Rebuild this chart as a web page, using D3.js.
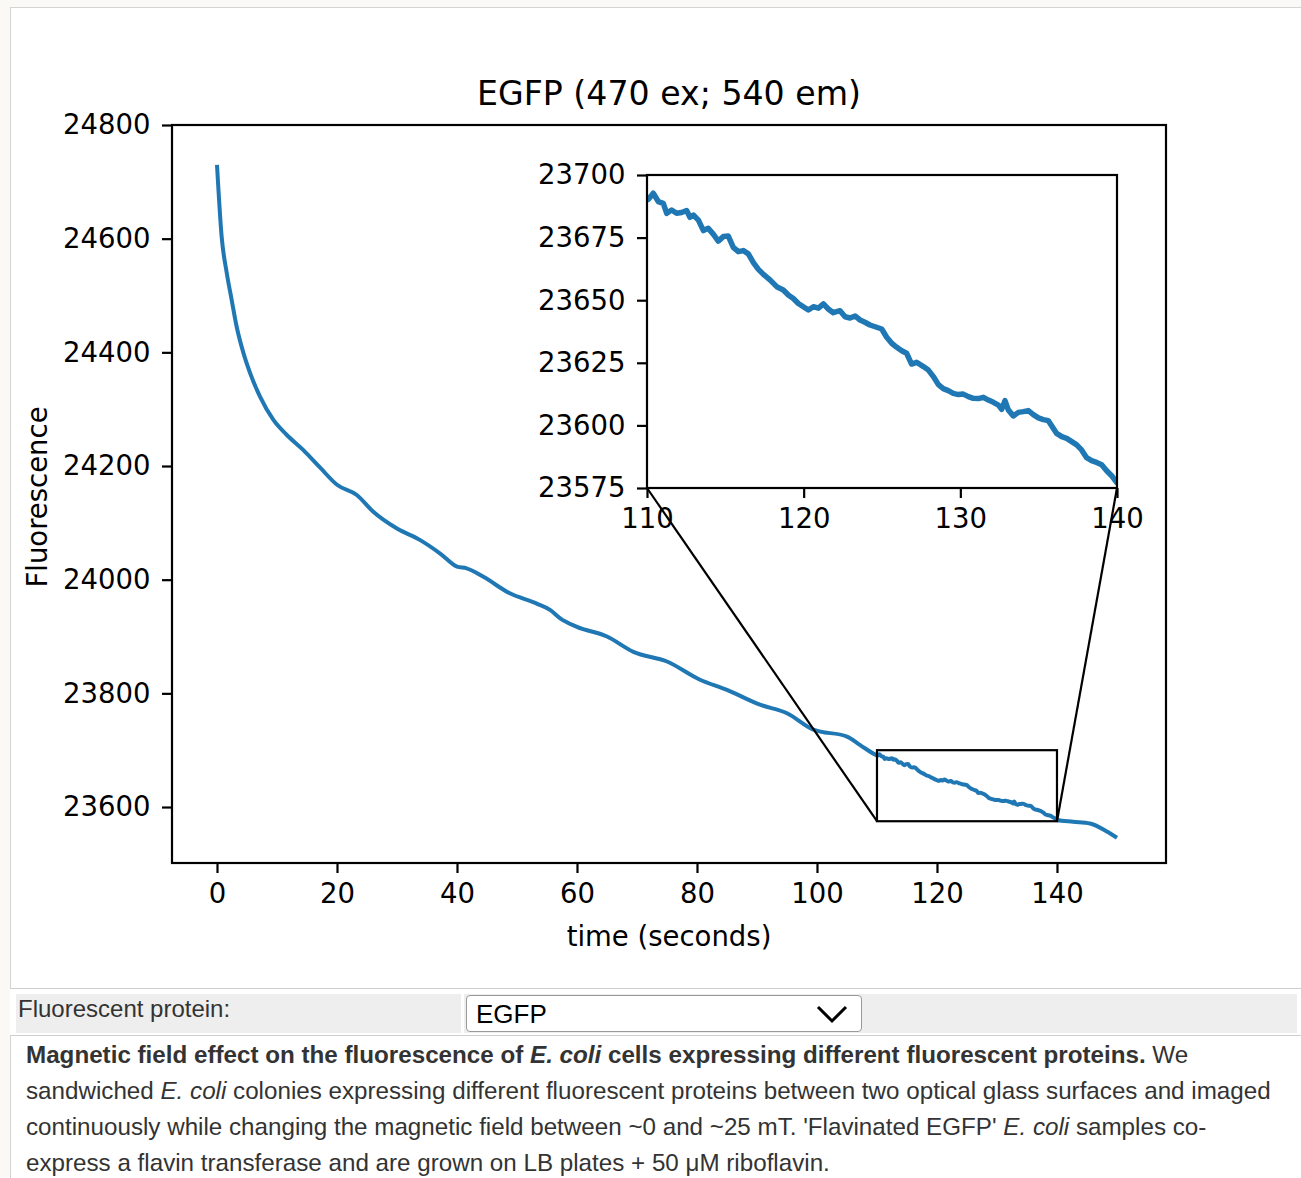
<!DOCTYPE html>
<html>
<head>
<meta charset="utf-8">
<script src="https://cdn.jsdelivr.net/npm/d3@7"></script>
<style>
  body { margin: 0; background: #faf9f5; width: 1301px; height: 1178px; overflow: hidden; position: relative; }
  #frame { position: absolute; left: 10px; top: 7px; width: 1300px; height: 1180px; background: #fff;
           border-left: 1px solid #d4d4d4; border-top: 1px solid #d4d4d4; }
  #chart { position: absolute; left: 0; top: 0; }
  #row { position: absolute; left: 10px; top: 988px; width: 1291px; height: 46px; background: #fff;
         border-top: 1px solid #cfcfcf; border-bottom: 1px solid #cfcfcf; }
  #lab { position: absolute; left: 6px; top: 5px; width: 445px; height: 39px; background: #eee;
         font: 24px "Liberation Sans", Arial, sans-serif; color: #333; }
  #lab span { position: absolute; left: 2px; top: 1px; }
  #val { position: absolute; left: 454px; top: 5px; width: 833px; height: 39px; background: #eee; }
  #sel { position: absolute; left: 2px; top: 1px; width: 394px; height: 35px; background: #fff;
         border: 1px solid #999; border-radius: 4px; font: 26px "Liberation Sans", Arial, sans-serif; color: #000; }
  #sel span { position: absolute; left: 9px; top: 3px; }
  #sel svg { position: absolute; left: 348px; top: 6px; }
  #cap { position: absolute; left: 26px; top: 1037px; font: 24.2px "Liberation Sans", Arial, sans-serif;
         line-height: 36px; color: #333; white-space: nowrap; }
</style>
</head>
<body>
<div id="frame"></div>
<svg id="chart" width="1301" height="975"></svg>
<div id="row">
  <div id="lab"><span>Fluorescent protein:</span></div>
  <div id="val"><div id="sel"><span>EGFP</span>
    <svg width="36" height="24"><path d="M3,5 L17,19 L31,5" fill="none" stroke="#000" stroke-width="3"/></svg>
  </div></div>
</div>
<div id="cap">
  <b>Magnetic field effect on the fluorescence of <i>E. coli</i> cells expressing different fluorescent proteins.</b> We<br>
  sandwiched <i>E. coli</i> colonies expressing different fluorescent proteins between two optical glass surfaces and imaged<br>
  continuously while changing the magnetic field between ~0 and ~25 mT. 'Flavinated EGFP' <i>E. coli</i> samples co-<br>
  express a flavin transferase and are grown on LB plates + 50 μM riboflavin.
</div>
<script>
// time (s) and fluorescence
const times = [
  0, 0.78, 1.62, 2.45, 3.28, 4.4, 5.5, 7.17, 9.4, 11.6, 14.4, 17.2, 20, 23.3, 26, 30, 33.8, 37.2,
  40, 41.6, 44.4, 48.8, 53.3, 55.5, 57.2, 60, 65, 69.4, 75, 80.5, 85, 90.5, 95, 99.4, 105, 107.2,
  110.00, 110.09, 110.40, 110.72, 111.04, 111.26, 111.57, 111.89, 112.21, 112.53, 112.74, 112.96,
  113.28, 113.60, 113.91, 114.23, 114.55, 114.87, 115.19, 115.51, 115.83, 116.15, 116.47, 116.79,
  117.11, 117.43, 117.85, 118.28, 118.70, 119.02, 119.34, 119.66, 119.98, 120.30, 120.62, 120.94,
  121.26, 121.57, 121.89, 122.32, 122.64, 122.96, 123.28, 123.60, 123.91, 124.23, 124.66, 124.98,
  125.30, 125.62, 125.94, 126.26, 126.57, 126.89, 127.21, 127.64, 127.96, 128.28, 128.60, 128.91,
  129.23, 129.55, 129.87, 130.19, 130.51, 130.83, 131.15, 131.47, 131.79, 132.11, 132.43, 132.64,
  132.85, 133.06, 133.38, 133.70, 134.02, 134.34, 134.66, 134.98, 135.30, 135.62, 135.94, 136.15,
  136.47, 136.79, 137.11, 137.43, 137.74, 138.06, 138.38, 138.70, 139.02, 139.34, 139.66, 140.00,
  142.7, 145.5, 148.3, 150
];
const fluor = [
  24730, 24603, 24540, 24492, 24445, 24399, 24364, 24322, 24281, 24255, 24228, 24197, 24167, 24149,
  24120, 24090, 24070, 24046, 24023, 24020, 24005, 23976, 23958, 23947, 23932, 23917, 23900, 23873,
  23856, 23824, 23806, 23780, 23765, 23736, 23724, 23709,
  23690.7, 23690.3, 23692.7, 23689.4, 23688.7, 23684.7, 23686.0, 23684.7, 23685.0, 23685.8, 23683.1, 23684.0,
  23682.0, 23677.8, 23678.7, 23676.4, 23673.6, 23675.4, 23675.6, 23671.1, 23669.4, 23669.8, 23668.5, 23665.0,
  23662.3, 23660.3, 23658.1, 23655.4, 23654.1, 23652.1, 23650.7, 23648.7, 23647.4, 23646.1, 23647.4, 23646.8,
  23648.5, 23646.5, 23645.0, 23645.8, 23643.4, 23642.9, 23643.7, 23642.1, 23641.2, 23640.1, 23639.2, 23638.5,
  23635.2, 23632.8, 23631.2, 23629.8, 23628.8, 23624.5, 23625.2, 23623.5, 23622.1, 23619.5, 23616.3, 23614.7,
  23613.9, 23612.8, 23612.3, 23612.5, 23611.5, 23610.8, 23610.7, 23611.2, 23610.1, 23609.2, 23608.1, 23606.4,
  23609.9, 23606.2, 23603.8, 23605.2, 23605.5, 23605.9, 23604.3, 23603.0, 23602.3, 23601.9, 23598.8, 23596.8,
  23595.5, 23594.8, 23593.5, 23592.2, 23590.2, 23587.1, 23585.9, 23585.2, 23584.3, 23581.9, 23579.9, 23577.1,
  23574, 23571, 23557, 23546
];
const xTicks = [0, 20, 40, 60, 80, 100, 120, 140];
const yTicks = [23600, 23800, 24000, 24200, 24400, 24600, 24800];
const insetXTicks = [110, 120, 130, 140];
const insetYTicks = [23575, 23600, 23625, 23650, 23675, 23700];
const insetX = [110, 140];
const insetY = [23575, 23700];

const data = times.map((t, i) => ({ t: t, v: fluor[i] }));
const svg = d3.select("#chart");
const font = "DejaVu Sans";

// main axes box
const box = { left: 172, right: 1166, top: 125, bottom: 863 };
const x = d3.scaleLinear().domain([-7.5, 158.17]).range([box.left, box.right]);
const y = d3.scaleLinear().domain([23501.5, 24800]).range([box.bottom, box.top]);

// inset box
const ib = { left: 647, right: 1117, top: 175, bottom: 488 };
const ix = d3.scaleLinear().domain(insetX).range([ib.left, ib.right]);
const iy = d3.scaleLinear().domain(insetY).range([ib.bottom, ib.top]);

svg.append("defs").append("clipPath").attr("id", "iclip")
  .append("rect").attr("x", ib.left).attr("y", ib.top)
  .attr("width", ib.right - ib.left).attr("height", ib.bottom - ib.top);

function styleAxis(g, size) {
  g.select(".domain").remove();
  g.selectAll(".tick line").attr("stroke", "#000").attr("stroke-width", 2.2);
  g.selectAll(".tick text").attr("fill", "#000").style("font-family", font).style("font-size", size + "px");
}

// main line (smooth at this scale)
const line = d3.line().curve(d3.curveMonotoneX).x(d => x(d.t)).y(d => y(d.v));
svg.append("path").datum(data).attr("d", line)
  .attr("fill", "none").attr("stroke", "#1f77b4").attr("stroke-width", 4)
  .attr("stroke-linejoin", "round");

// axes main
svg.append("g").attr("transform", `translate(0,${box.bottom})`)
  .call(d3.axisBottom(x).tickValues(xTicks).tickSize(10).tickPadding(10.5).tickSizeOuter(0))
  .call(g => styleAxis(g, 27.5));
svg.append("g").attr("transform", `translate(${box.left},0)`)
  .call(d3.axisLeft(y).tickValues(yTicks).tickSize(10).tickPadding(11.5).tickSizeOuter(0).tickFormat(d3.format("d")))
  .call(g => styleAxis(g, 27.5));
svg.append("rect").attr("x", box.left).attr("y", box.top)
  .attr("width", box.right - box.left).attr("height", box.bottom - box.top)
  .attr("fill", "none").attr("stroke", "#000").attr("stroke-width", 2.2);

// zoom rectangle on main axes
svg.append("rect").attr("x", x(insetX[0])).attr("y", y(insetY[1]))
  .attr("width", x(insetX[1]) - x(insetX[0])).attr("height", y(insetY[0]) - y(insetY[1]))
  .attr("fill", "none").attr("stroke", "#000").attr("stroke-width", 2.2);

// inset
svg.append("rect").attr("x", ib.left).attr("y", ib.top)
  .attr("width", ib.right - ib.left).attr("height", ib.bottom - ib.top).attr("fill", "#fff");
const iline = d3.line().x(d => ix(d.t)).y(d => iy(d.v));
svg.append("path").datum(data).attr("d", iline).attr("clip-path", "url(#iclip)")
  .attr("fill", "none").attr("stroke", "#1f77b4").attr("stroke-width", 5.5)
  .attr("stroke-linejoin", "round");
svg.append("g").attr("transform", `translate(0,${ib.bottom})`)
  .call(d3.axisBottom(ix).tickValues(insetXTicks).tickSize(10).tickPadding(10.5).tickSizeOuter(0))
  .call(g => styleAxis(g, 27.5));
svg.append("g").attr("transform", `translate(${ib.left},0)`)
  .call(d3.axisLeft(iy).tickValues(insetYTicks).tickSize(10).tickPadding(11.5).tickSizeOuter(0).tickFormat(d3.format("d")))
  .call(g => styleAxis(g, 27.5));
svg.append("rect").attr("x", ib.left).attr("y", ib.top)
  .attr("width", ib.right - ib.left).attr("height", ib.bottom - ib.top)
  .attr("fill", "none").attr("stroke", "#000").attr("stroke-width", 2.2);

// connector lines (inset lower corners -> zoom box lower corners)
[[ib.left, insetX[0]], [ib.right, insetX[1]]].forEach(([px, t]) => {
  svg.append("line").attr("x1", px).attr("y1", ib.bottom)
    .attr("x2", x(t)).attr("y2", y(insetY[0]))
    .attr("stroke", "#000").attr("stroke-width", 2.2);
});

// titles
svg.append("text").attr("x", (box.left + box.right) / 2).attr("y", 105)
  .attr("text-anchor", "middle").style("font-family", font).style("font-size", "33.2px")
  .text("EGFP (470 ex; 540 em)");
svg.append("text").attr("x", (box.left + box.right) / 2).attr("y", 946)
  .attr("text-anchor", "middle").style("font-family", font).style("font-size", "27.5px")
  .text("time (seconds)");
svg.append("text").attr("transform", `translate(47,${(box.top + box.bottom) / 2 + 3}) rotate(-90)`)
  .attr("text-anchor", "middle").style("font-family", font).style("font-size", "27.5px")
  .text("Fluorescence");
</script>
</body>
</html>
